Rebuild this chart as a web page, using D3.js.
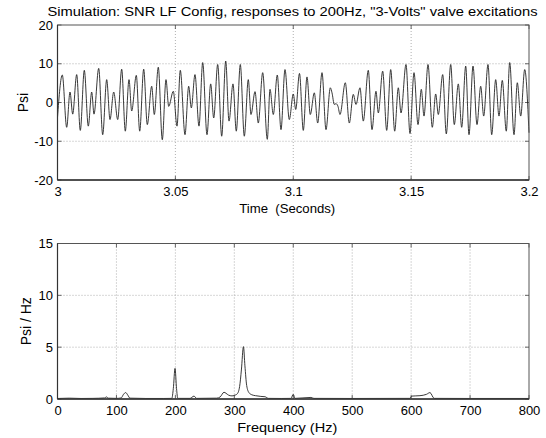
<!DOCTYPE html>
<html><head><meta charset="utf-8">
<script src="https://cdn.jsdelivr.net/npm/d3@7/dist/d3.min.js"></script>
<style>
body{margin:0;background:#fff}
svg{display:block}
text{font-family:"Liberation Sans",Arial,Helvetica,sans-serif;fill:#000}
</style>
</head><body>
<svg id="c" width="546" height="438"></svg>
<script>
// ---- Top panel: pressure time history (peaks/troughs) ----
const timeS = [3.00000,3.00204,3.00390,3.00530,3.00645,3.00814,3.00967,3.01137,3.01306,3.01451,3.01548,3.01748,3.01917,3.02087,3.02227,3.02384,3.02554,3.02723,3.02876,3.03033,3.03147,3.03343,3.03487,3.03656,3.03809,3.03996,3.04106,3.04276,3.04445,3.04602,3.04717,3.04912,3.05069,3.05209,3.05408,3.05565,3.05676,3.05832,3.06002,3.06159,3.06341,3.06498,3.06626,3.06795,3.06965,3.07135,3.07275,3.07444,3.07584,3.07754,3.07924,3.08093,3.08208,3.08378,3.08517,3.08704,3.08899,3.09014,3.09154,3.09323,3.09480,3.09650,3.09832,3.10002,3.10104,3.10265,3.10426,3.10583,3.10723,3.10893,3.11037,3.11220,3.11389,3.11572,3.11644,3.11741,3.11813,3.11898,3.11983,3.12208,3.12378,3.12547,3.12662,3.12831,3.12971,3.13183,3.13340,3.13510,3.13608,3.13794,3.13964,3.14134,3.14303,3.14456,3.14571,3.14783,3.14952,3.15122,3.15292,3.15432,3.15546,3.15716,3.15898,3.16042,3.16153,3.16339,3.16492,3.16679,3.16831,3.17001,3.17145,3.17315,3.17455,3.17625,3.17794,3.17951,3.18078,3.18261,3.18418,3.18587,3.18727,3.18867,3.19037,3.19181,3.19364,3.19504,3.19648,3.19818,3.20000];
const psi = [-3.8,7.1,-6.4,2.7,-3.0,7.2,-7.2,8.3,-6.1,2.7,-3.0,8.8,-8.3,5.9,-4.4,2.7,-4.4,8.6,-7.4,5.9,-2.2,7.0,-7.4,8.6,-5.7,4.2,-3.1,9.1,-9.6,5.9,-1.0,2.9,-6.1,8.3,-8.3,4.2,-1.4,7.2,-6.1,10.3,-8.3,4.8,-4.0,9.8,-8.7,10.7,-4.8,4.8,-7.4,9.8,-8.7,5.9,-3.1,2.8,-5.3,7.7,-9.5,3.4,-3.1,7.1,-7.0,8.5,-4.4,2.2,-1.8,7.5,-7.2,6.6,-3.1,2.5,-5.3,7.7,-7.0,3.8,2.5,-0.5,-0.3,-1.0,-3.1,5.1,-5.3,2.1,-0.5,3.8,-4.8,8.3,-7.0,2.9,-2.7,8.1,-7.2,8.5,-7.4,3.8,-2.7,9.8,-8.0,7.7,-5.7,3.4,-3.5,9.8,-6.4,2.2,-3.1,7.2,-8.1,9.8,-5.7,4.8,-6.4,9.4,-8.3,9.4,-5.7,4.2,-3.5,9.8,-8.3,5.9,-3.5,5.7,-7.4,10.3,-8.3,5.1,-3.5,8.5,-7.8];

// ---- Bottom panel: spectrum ----
const freqHz = [0,20,40,60,80,83,86,100,108,112,115.7,119,123,150,180,194,196.5,199.4,202,204,225,231.6,236,270,276,282.5,286,290,296,300,305,309,312,315.5,318,321,325,330,336,345,352,358,380,396,400,403,430,435,500,598,601,615,626,632,639,700,800];
const psiPerHz = [0.05,0.08,0.05,0.06,0.1,0.2,0.08,0.06,0.1,0.45,0.62,0.4,0.08,0.05,0.05,0.06,1.0,2.95,1.0,0.06,0.06,0.28,0.06,0.08,0.2,0.65,0.55,0.38,0.3,0.35,0.5,1.2,2.8,5.05,3.2,1.3,0.6,0.4,0.32,0.25,0.22,0.06,0.05,0.06,0.45,0.06,0.15,0.06,0.05,0.06,0.28,0.32,0.45,0.62,0.06,0.05,0.05];

// ---- Ticks ----
const timeTicks = [3,3.05,3.1,3.15,3.2];
const timeTickLabels = ["3","3.05","3.1","3.15","3.2"];
const psiTicks = [-20,-10,0,10,20];
const freqTicks = [0,100,200,300,400,500,600,700,800];
const specTicks = [0,5,10,15];

const titleText = 'Simulation: SNR LF Config, responses to 200Hz, "3-Volts" valve excitations';

const svg = d3.select("#c");
const L = 57.5, R = 529;
const top1 = {t:25, b:180};
const top2 = {t:243.5, b:399};

function panel(box, x, y, xt, xtl, yt, data, xlab, ylab, ylabX, xlabY, xlabW){
  const g = svg.append("g");
  // grid
  g.selectAll(".gx").data(xt.slice(1,-1)).join("line")
    .attr("x1", d=>x(d)).attr("x2", d=>x(d)).attr("y1", box.t).attr("y2", box.b)
    .attr("stroke","#9a9a9a").attr("stroke-width",0.8).attr("stroke-dasharray","1,2");
  g.selectAll(".gy").data(yt.slice(1,-1)).join("line")
    .attr("y1", d=>y(d)).attr("y2", d=>y(d)).attr("x1", L).attr("x2", R)
    .attr("stroke","#9a9a9a").attr("stroke-width",0.8).attr("stroke-dasharray","1,2");
  // inward ticks
  g.selectAll(".tb").data(xt).join("line")
    .attr("x1", d=>x(d)).attr("x2", d=>x(d)).attr("y1", box.b).attr("y2", box.b-4)
    .attr("stroke","#444").attr("stroke-width",0.8);
  g.selectAll(".tt").data(xt).join("line")
    .attr("x1", d=>x(d)).attr("x2", d=>x(d)).attr("y1", box.t).attr("y2", box.t+4)
    .attr("stroke","#444").attr("stroke-width",0.8);
  g.selectAll(".tl").data(yt).join("line")
    .attr("y1", d=>y(d)).attr("y2", d=>y(d)).attr("x1", L).attr("x2", L+4)
    .attr("stroke","#444").attr("stroke-width",0.8);
  g.selectAll(".tr").data(yt).join("line")
    .attr("y1", d=>y(d)).attr("y2", d=>y(d)).attr("x1", R).attr("x2", R-4)
    .attr("stroke","#444").attr("stroke-width",0.8);
  // data line
  const line = d3.line().x(d=>x(d[0])).y(d=>y(d[1])).curve(d3.curveMonotoneX);
  g.append("path").datum(data).attr("d", line)
    .attr("fill","none").attr("stroke","#222").attr("stroke-width",0.9);
  // box
  g.append("rect").attr("x",L).attr("y",box.t).attr("width",R-L).attr("height",box.b-box.t)
    .attr("fill","none").attr("stroke","#555").attr("stroke-width",1);
  g.append("line").attr("x1",L).attr("x2",R).attr("y1",box.b).attr("y2",box.b)
    .attr("stroke","#333").attr("stroke-width",1.4);
  g.append("line").attr("x1",L).attr("x2",L).attr("y1",box.t).attr("y2",box.b)
    .attr("stroke","#333").attr("stroke-width",1.2);
  // axes labels
  const ax = d3.axisBottom(x).tickValues(xt).tickSize(0).tickPadding(7)
    .tickFormat((d,i)=> xtl ? xtl[i] : String(d));
  const ga = g.append("g").attr("transform",`translate(0,${box.b})`).call(ax);
  ga.select(".domain").remove();
  ga.selectAll("text").attr("font-size",13).attr("fill","#000")
    .style("font-family",'"Liberation Sans",Arial,sans-serif');
  const ay = d3.axisLeft(y).tickValues(yt).tickSize(0).tickPadding(4.5)
    .tickFormat(d => String(d));
  const gy = g.append("g").attr("transform",`translate(${L},0)`).call(ay);
  gy.select(".domain").remove();
  gy.selectAll("text").attr("font-size",13).attr("fill","#000")
    .style("font-family",'"Liberation Sans",Arial,sans-serif');
  // titles
  g.append("text").attr("x", (L+R)/2 - 6).attr("y", xlabY).attr("text-anchor","middle")
    .attr("font-size",13.5).attr("textLength", xlabW).attr("lengthAdjust","spacingAndGlyphs")
    .style("white-space","pre").text(xlab);
  g.append("text").attr("transform",`translate(${ylabX},${(box.t+box.b)/2}) rotate(-90)`)
    .attr("text-anchor","middle").attr("font-size",14).text(ylab);
}

const x1 = d3.scaleLinear().domain([3,3.2]).range([L,R]);
const y1 = d3.scaleLinear().domain([-20,20]).range([top1.b, top1.t]);
const x2 = d3.scaleLinear().domain([0,800]).range([L,R]);
const y2 = d3.scaleLinear().domain([0,15]).range([top2.b, top2.t]);

panel(top1, x1, y1, timeTicks, timeTickLabels, psiTicks, timeS.map((t,i)=>[t,psi[i]]),
  "Time  (Seconds)", "Psi", 28, 212.5, 96);
panel(top2, x2, y2, freqTicks, null, specTicks, freqHz.map((f,i)=>[f,psiPerHz[i]]),
  "Frequency (Hz)", "Psi / Hz", 30.5, 432, 100);

svg.append("text").attr("x", 47.5).attr("y", 16).attr("font-size",12.5)
  .attr("textLength",490).attr("lengthAdjust","spacingAndGlyphs").text(titleText);
</script>
</body></html>
